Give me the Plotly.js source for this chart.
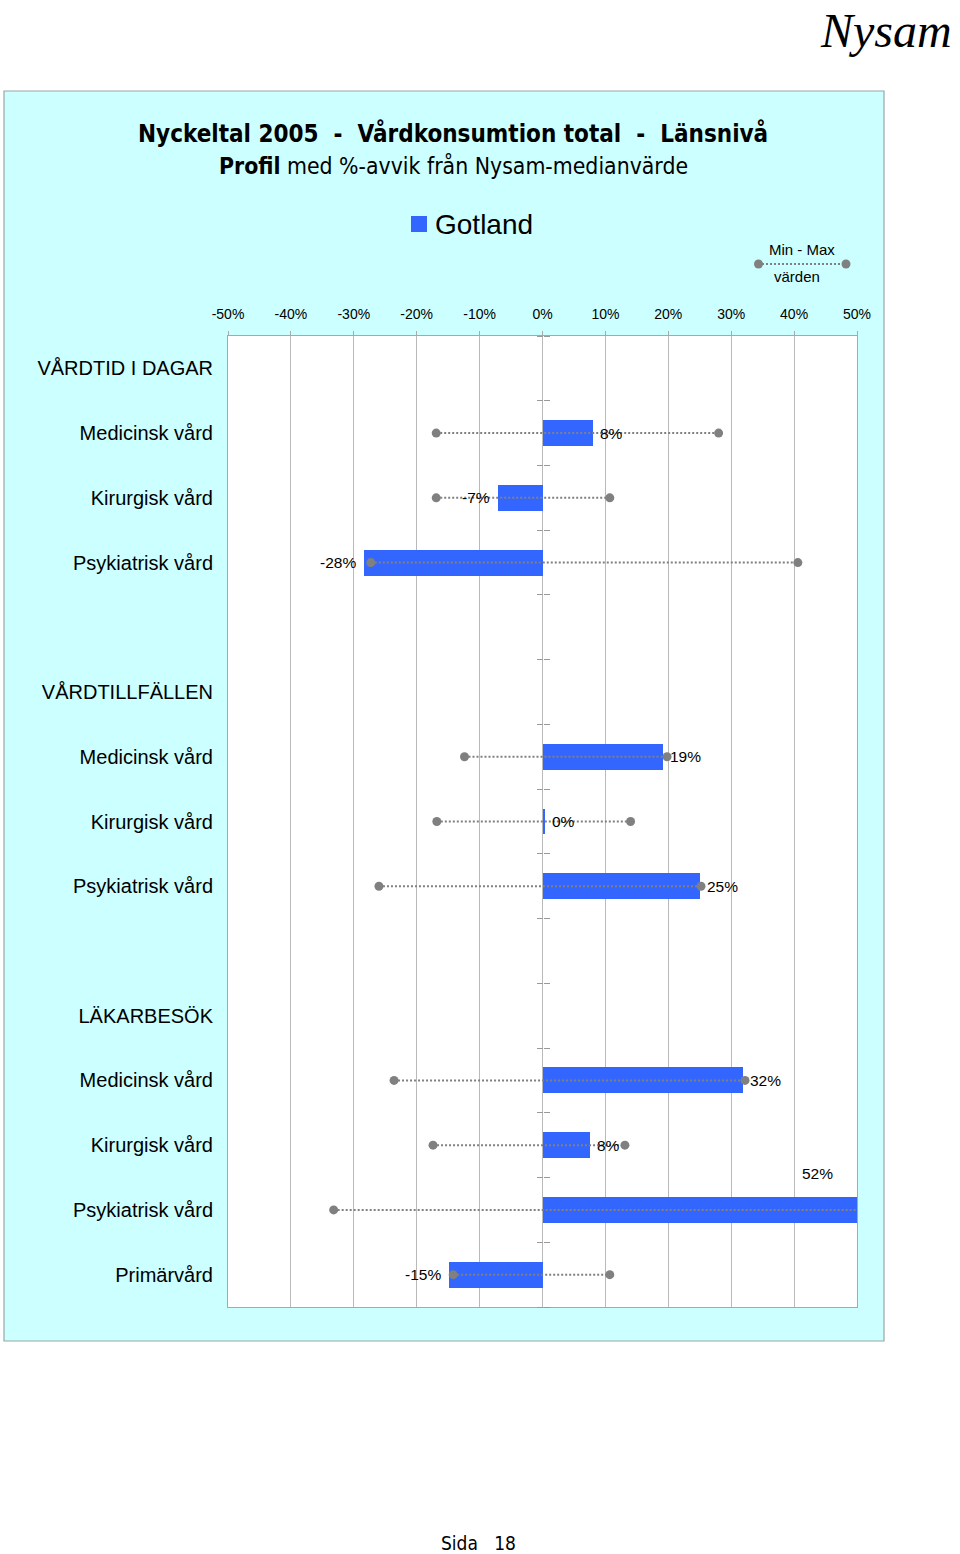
<!DOCTYPE html>
<html>
<head>
<meta charset="utf-8">
<script src="https://cdn.plot.ly/plotly-3.0.1.min.js"></script>
<style>
html,body{margin:0;padding:0;background:#fff;}
#chart{width:960px;height:1554px;}
</style>
</head>
<body>
<div id="chart"></div>
<script>
// ---- data ----
const categories = ["VÅRDTID I DAGAR","Medicinsk vård","Kirurgisk vård","Psykiatrisk vård","",
  "VÅRDTILLFÄLLEN","Medicinsk vård","Kirurgisk vård","Psykiatrisk vård","",
  "LÄKARBESÖK","Medicinsk vård","Kirurgisk vård","Psykiatrisk vård","Primärvård"];
const gotland = [null, 8.1, -7.1, -28.4, null, null, 19.2, 0.4, 25.1, null, null, 31.8, 7.6, 52, -14.8];
const minVals = [null, -16.9, -16.9, -27.3, null, null, -12.4, -16.8, -26.0, null, null, -23.6, -17.4, -33.2, -14.2];
const maxVals = [null, 28.0, 10.7, 40.6, null, null, 19.8, 14.0, 25.2, null, null, 32.2, 13.1, 52, 10.7];
const xTickVals = [-50, -40, -30, -20, -10, 0, 10, 20, 30, 40, 50];
const xTickLabels = ["-50%","-40%","-30%","-20%","-10%","0%","10%","20%","30%","40%","50%"];
const seriesName = "Gotland";
const rangeName = ["Min - Max", "värden"];

// ---- layout helpers ----
const W = 960, H = 1554;
const M = {l: 228, r: 103, t: 336, b: 247};
const PW = W - M.l - M.r, PH = H - M.t - M.b;
const xp = px => (px - M.l) / PW;
const yp = py => (H - M.b - py) / PH;
const X_MIN = xTickVals[0], X_MAX = xTickVals[xTickVals.length - 1];

const rows = categories.map((c, i) => i);
const sans = "'Liberation Sans', Arial, Helvetica, sans-serif";
const narrow = "'Liberation Sans Narrow', 'Arial Narrow', 'DejaVu Sans Condensed', sans-serif";
const blue = "#3366ff";
const grey = "#808080";

// bars
const barTrace = {
  type: "bar", orientation: "h",
  x: gotland, y: rows, width: 0.4,
  marker: {color: blue, line: {width: 0}},
  hoverinfo: "x", showlegend: false
};

// min-max dotted lines
const lx = [], ly = [];
rows.forEach(i => {
  if (minVals[i] !== null && maxVals[i] !== null) {
    lx.push(minVals[i], maxVals[i], null);
    ly.push(i, i, null);
  }
});
const rangeTrace = {
  type: "scatter", mode: "lines+markers",
  x: lx, y: ly,
  line: {color: grey, width: 2, dash: "2px,2px"},
  marker: {color: grey, size: 9},
  connectgaps: false, hoverinfo: "x", showlegend: false
};

// value labels (as annotations anchored on the bar ends)
const labelAnn = [];
rows.forEach(i => {
  const v = gotland[i];
  if (v === null) return;
  const lab = Math.round(v) + "%";
  const f = {family: sans, size: 15.5, color: "#000"};
  if (v > X_MAX) {
    labelAnn.push({x: X_MAX, y: i, xref: "x", yref: "y", text: lab, showarrow: false,
      xanchor: "right", yanchor: "middle", xshift: -22, yshift: 36, font: f});
    return;
  }
  labelAnn.push({x: v, y: i, xref: "x", yref: "y", text: lab, showarrow: false,
    xanchor: v >= 0 ? "left" : "right", yanchor: "middle",
    xshift: v >= 0 ? 5 : -6, font: f});
});

// dummy traces for zero-axis tick marks
const dummy2 = {type: "scatter", mode: "markers", x: [0], y: [0], yaxis: "y2",
  marker: {opacity: 0}, hoverinfo: "skip", showlegend: false};
const dummy3 = {type: "scatter", mode: "markers", x: [0], y: [0], yaxis: "y3",
  marker: {opacity: 0}, hoverinfo: "skip", showlegend: false};

const yRange = [categories.length - 0.5, -0.5];
const boundaries = [];
for (let k = -1; k < categories.length; k++) boundaries.push(k + 0.5);
const zeroPos = (0 - X_MIN) / (X_MAX - X_MIN);

const tickAxis = side => ({
  overlaying: "y", anchor: "free", position: zeroPos, side: side,
  range: yRange, tickmode: "array", tickvals: boundaries, ticktext: boundaries.map(() => ""),
  ticks: "outside", ticklen: 6, tickwidth: 1, tickcolor: "#999",
  showgrid: false, zeroline: false, showline: false, showticklabels: false, fixedrange: true
});

const layout = {
  width: W, height: H,
  margin: M,
  paper_bgcolor: "#ffffff",
  plot_bgcolor: "rgba(0,0,0,0)",
  showlegend: false,
  bargap: 0,
  xaxis: {
    range: [X_MIN, X_MAX], side: "top",
    tickmode: "array", tickvals: xTickVals, ticktext: xTickLabels,
    tickfont: {family: sans, size: 14, color: "#000"},
    ticks: "outside", ticklen: 4, tickcolor: "#aaa", ticklabelstandoff: 6,
    showgrid: true, gridcolor: "#b9b9b9", gridwidth: 1,
    zeroline: false, showline: true, mirror: true, linecolor: "#a8a8a8", linewidth: 1,
    fixedrange: true
  },
  yaxis: {
    range: yRange,
    tickmode: "array", tickvals: rows, ticktext: categories,
    tickfont: {family: sans, size: 20, color: "#000"},
    ticks: "", ticklabelstandoff: 10,
    showgrid: false, zeroline: false, showline: true, mirror: true, linecolor: "#a8a8a8", linewidth: 1,
    fixedrange: true
  },
  yaxis2: tickAxis("left"),
  yaxis3: tickAxis("right"),
  shapes: [
    {type: "rect", xref: "paper", yref: "paper", x0: xp(4), x1: xp(884), y0: yp(1341), y1: yp(91),
      fillcolor: "#ccffff", line: {color: "#9aa6a6", width: 1.2}, layer: "below"},
    {type: "rect", xref: "paper", yref: "paper", x0: 0, x1: 1, y0: 0, y1: 1,
      fillcolor: "#ffffff", line: {width: 0}, layer: "below"},
    // legend: Gotland swatch
    {type: "rect", xref: "paper", yref: "paper", x0: xp(411), x1: xp(427), y0: yp(232), y1: yp(216),
      fillcolor: blue, line: {width: 0}},
    // legend: min-max dotted line with end dots
    {type: "line", xref: "paper", yref: "paper", x0: xp(758), x1: xp(846), y0: yp(264), y1: yp(264),
      line: {color: grey, width: 2, dash: "2px,2px"}},
    {type: "circle", xref: "paper", yref: "paper", x0: xp(754), x1: xp(763), y0: yp(268.5), y1: yp(259.5),
      fillcolor: grey, line: {width: 0}},
    {type: "circle", xref: "paper", yref: "paper", x0: xp(841.5), x1: xp(850.5), y0: yp(268.5), y1: yp(259.5),
      fillcolor: grey, line: {width: 0}}
  ],
  annotations: [
    {xref: "paper", yref: "paper", x: xp(453), y: yp(134), xanchor: "center", yanchor: "middle",
      showarrow: false, text: "<b>Nyckeltal 2005  -  Vårdkonsumtion total  -  Länsnivå</b>",
      font: {family: narrow, size: 24, color: "#000"}},
    {xref: "paper", yref: "paper", x: xp(453), y: yp(165), xanchor: "center", yanchor: "middle",
      showarrow: false, text: "<b>Profil</b> med %-avvik från Nysam-medianvärde",
      font: {family: narrow, size: 22.8, color: "#000"}},
    {xref: "paper", yref: "paper", x: xp(433), y: yp(224), xanchor: "left", yanchor: "middle",
      showarrow: false, text: seriesName, font: {family: sans, size: 28, color: "#000"}},
    {xref: "paper", yref: "paper", x: xp(802), y: yp(250), xanchor: "center", yanchor: "middle",
      showarrow: false, text: rangeName[0], font: {family: sans, size: 15, color: "#000"}},
    {xref: "paper", yref: "paper", x: xp(797), y: yp(276), xanchor: "center", yanchor: "middle",
      showarrow: false, text: rangeName[1], font: {family: sans, size: 15, color: "#000"}},
    {xref: "paper", yref: "paper", x: xp(954), y: yp(30), xanchor: "right", yanchor: "middle",
      showarrow: false, text: "<i>Nysam</i>",
      font: {family: "'Liberation Serif', 'Times New Roman', serif", size: 48, color: "#000"}},
    {xref: "paper", yref: "paper", x: xp(478), y: yp(1543), xanchor: "center", yanchor: "middle",
      showarrow: false, text: "Sida\u00a0\u00a0 18",
      font: {family: narrow, size: 19, color: "#000"}}
  ].concat(labelAnn)
};

Plotly.newPlot("chart", [barTrace, rangeTrace, dummy2, dummy3], layout,
  {displayModeBar: false, staticPlot: true});
</script>
</body>
</html>
